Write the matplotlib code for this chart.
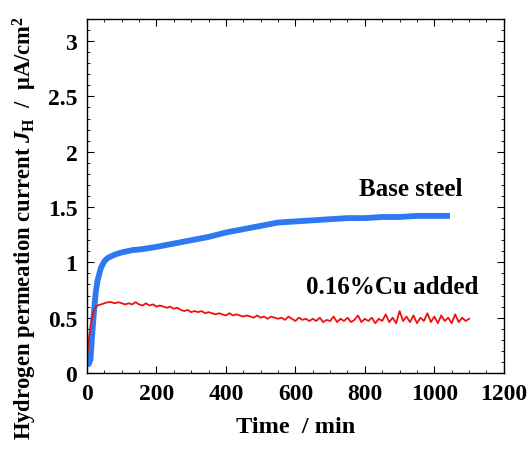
import matplotlib
matplotlib.use("Agg")
import matplotlib.pyplot as plt
from matplotlib.ticker import MultipleLocator

plt.rcParams['font.family'] = ['Liberation Serif', 'DejaVu Serif']
plt.rcParams['font.weight'] = 'bold'
plt.rcParams['mathtext.fontset'] = 'custom'
plt.rcParams['mathtext.rm'] = 'Liberation Serif:bold'
plt.rcParams['mathtext.it'] = 'Liberation Serif:bold:italic'
plt.rcParams['mathtext.bf'] = 'Liberation Serif:bold'

# Base steel (blue)
base_t = [0, 5, 10, 15, 20, 25, 30, 40, 50, 60, 80, 100, 130, 160, 200, 250, 300, 350, 400,
          450, 500, 550, 600, 650, 700, 750, 800, 850, 900, 950, 1000, 1045]
base_j = [0.10, 0.08, 0.12, 0.35, 0.55, 0.72, 0.83, 0.95, 1.01, 1.04, 1.07, 1.09, 1.11, 1.12,
          1.14, 1.17, 1.20, 1.23, 1.27, 1.30, 1.33, 1.36, 1.37, 1.38, 1.39, 1.40, 1.40, 1.41,
          1.41, 1.42, 1.42, 1.42]

# 0.16%Cu added (red)
cu_t = [0, 5, 10, 15, 20, 25, 30, 40, 50, 60, 70, 80, 90, 100, 110, 120, 130, 140] + \
       list(range(150, 1101, 10))
cu_j = [0.15, 0.30, 0.42, 0.50, 0.56, 0.59, 0.61, 0.62, 0.63, 0.64, 0.64, 0.63, 0.64, 0.63,
        0.62, 0.63, 0.62, 0.64,
        0.62, 0.61, 0.63, 0.61, 0.62, 0.60, 0.61, 0.60, 0.59, 0.60,
        0.58, 0.59, 0.57, 0.56, 0.57, 0.55, 0.56, 0.55, 0.56, 0.54,
        0.55, 0.54, 0.53, 0.54, 0.53, 0.52, 0.54, 0.52, 0.53, 0.52,
        0.51, 0.52, 0.51, 0.50, 0.52, 0.50, 0.51, 0.49, 0.51, 0.50,
        0.49, 0.50, 0.48, 0.51, 0.49, 0.47, 0.50, 0.48, 0.49, 0.47,
        0.49, 0.47, 0.50, 0.46, 0.48, 0.47, 0.51, 0.46, 0.49, 0.47,
        0.50, 0.46, 0.48, 0.52, 0.46, 0.49, 0.47, 0.50, 0.45, 0.49,
        0.47, 0.53, 0.46, 0.50, 0.45, 0.56, 0.47, 0.51, 0.46, 0.52,
        0.45, 0.50, 0.47, 0.54, 0.46, 0.51, 0.45, 0.52, 0.47, 0.50,
        0.45, 0.53, 0.46, 0.50, 0.47, 0.49]

fig = plt.figure(figsize=(5.32, 4.52), dpi=100)
ax = fig.add_axes([0.1635, 0.1726, 0.7835, 0.7832])

ax.plot(base_t, base_j, color='#2f78f2', lw=4.2, solid_capstyle='butt')
ax.plot(cu_t, cu_j, color='#ee1111', lw=1.3)

ax.set_xlim(0, 1200)
ax.set_ylim(0, 3.2)
ax.xaxis.set_major_locator(MultipleLocator(200))
ax.xaxis.set_minor_locator(MultipleLocator(50))
ax.yaxis.set_minor_locator(MultipleLocator(0.1))
ax.set_yticks([0, 0.5, 1, 1.5, 2, 2.5, 3])
ax.set_yticklabels(['0', '0.5', '1', '1.5', '2', '2.5', '3'])
ax.tick_params(which='both', direction='in', top=True, right=True, labelsize=17, pad=7)
ax.tick_params(which='major', length=5)
ax.tick_params(which='minor', length=2.5)
for s in ax.spines.values():
    s.set_linewidth(1.0)

ax.set_xlabel('Time  / min', fontsize=17.5, fontweight='bold', labelpad=9)
fig.text(25 / 532, 1 - 228 / 452,
         r'Hydrogen permeation current $J_{\mathrm{H}}$  /  μA/cm$^2$',
         fontsize=16.3, fontweight='bold', rotation=90, ha='center', va='center')

ax.text(932, 1.67, 'Base steel', fontsize=18, fontweight='bold', ha='center', va='center')
ax.text(878, 0.78, '0.16%Cu added', fontsize=18, fontweight='bold', ha='center', va='center')

fig.savefig('out.png', dpi=100)
